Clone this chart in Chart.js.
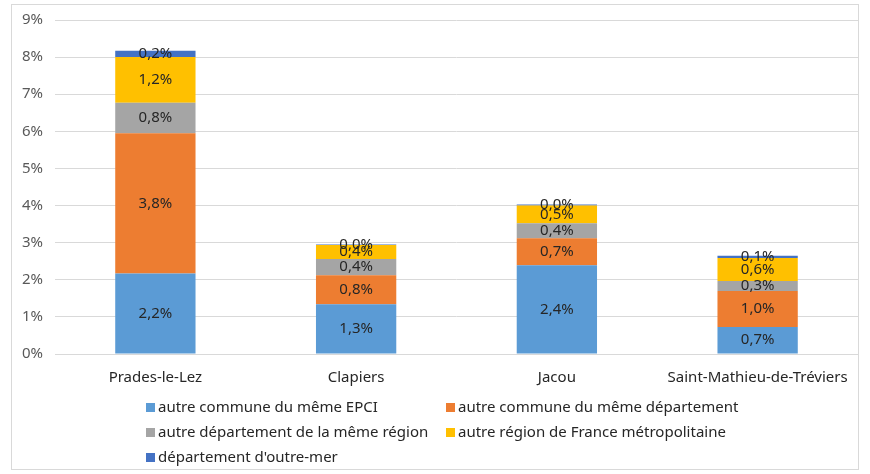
<!DOCTYPE html>
<html>
<head>
<meta charset="utf-8">
<script src="https://cdn.jsdelivr.net/npm/chart.js@4"></script>
<style>
    body { margin: 0; background: #fff; font-family: "Noto Sans", sans-serif; }
    #box {
        position: absolute; left: 11px; top: 4px;
        width: 848px; height: 466px;
        border: 1px solid #d9d9d9; box-sizing: border-box;
    }
    #wrap { position: absolute; left: 0; top: -6px; width: 846px; height: 414px; }
    #legend {
        position: absolute; left: 134px; top: 391px;
        display: grid; grid-template-columns: 300px 330px;
        row-gap: 5px; font-size: 15px; color: #262626;
    }
    #legend span.sq {
        display: inline-block; width: 9px; height: 9px; margin-right: 3px;
        vertical-align: 0px;
    }
</style>
</head>
<body>
<div id="box">
    <div id="wrap"><canvas id="chart"></canvas></div>
    <div id="legend"></div>
</div>
<script>
// categories (communes)
const communes = ['Prades-le-Lez', 'Clapiers', 'Jacou', 'Saint-Mathieu-de-Tréviers'];

// series values, in %
const memeEpci = [2.17, 1.34, 2.39, 0.73];
const memeDepartement = [3.78, 0.78, 0.73, 0.97];
const memeRegion = [0.82, 0.44, 0.40, 0.27];
const franceMetro = [1.23, 0.38, 0.48, 0.62];
const outreMer = [0.17, 0.01, 0.03, 0.06];

const seriesNames = [
    'autre commune du même EPCI',
    'autre commune du même département',
    'autre département de la même région',
    'autre région de France métropolitaine',
    "département d'outre-mer"
];
const seriesColors = ['#5b9bd5', '#ed7d31', '#a5a5a5', '#ffc000', '#4472c4'];

// y axis ticks
const yTicks = [0, 1, 2, 3, 4, 5, 6, 7, 8, 9];

const fmt = v => v.toFixed(1).replace('.', ',') + '%';

// draws the value labels in the middle of each segment
const segmentLabels = {
    id: 'segmentLabels',
    afterDatasetsDraw(chart) {
        const ctx = chart.ctx;
        ctx.save();
        ctx.font = '15px "Noto Sans"';
        ctx.fillStyle = '#262626';
        ctx.textAlign = 'center';
        ctx.textBaseline = 'middle';
        chart.data.datasets.forEach((ds, i) => {
            chart.getDatasetMeta(i).data.forEach((bar, j) => {
                const y = (bar.y + bar.base) / 2;
                ctx.fillText(fmt(ds.data[j]), bar.x, y);
            });
        });
        ctx.restore();
    }
};

const allSeries = [memeEpci, memeDepartement, memeRegion, franceMetro, outreMer];

const chart = new Chart(document.getElementById('chart'), {
    type: 'bar',
    data: {
        labels: communes,
        datasets: allSeries.map((vals, i) => ({
            label: seriesNames[i],
            data: vals,
            backgroundColor: seriesColors[i],
            barPercentage: 0.4,
            categoryPercentage: 1
        }))
    },
    options: {
        responsive: true,
        maintainAspectRatio: false,
        animation: false,
        layout: { padding: { top: 9, right: 0, bottom: 20, left: 0 } },
        plugins: {
            legend: { display: false },
            tooltip: { enabled: false }
        },
        scales: {
            x: {
                stacked: true,
                grid: { display: false },
                border: { color: '#d9d9d9' },
                ticks: {
                    padding: 6.5,
                    color: '#262626',
                    maxRotation: 0,
                    font: { family: 'Noto Sans', size: 15 }
                }
            },
            y: {
                stacked: true,
                min: 0,
                max: 9,
                afterFit(scale) { scale.width = 43; },
                afterBuildTicks(scale) {
                    scale.ticks = yTicks.map(v => ({ value: v }));
                },
                grid: { color: '#d9d9d9', drawTicks: false },
                border: { display: false },
                ticks: {
                    padding: 12,
                    color: '#595959',
                    font: { family: 'Noto Sans', size: 15 },
                    callback: v => v + '%'
                }
            }
        }
    },
    plugins: [segmentLabels]
});

// legend in two columns, like the original
const legend = document.getElementById('legend');
chart.data.datasets.forEach(ds => {
    const item = document.createElement('div');
    item.innerHTML = '<span class="sq" style="background:' + ds.backgroundColor + '"></span>' + ds.label;
    legend.appendChild(item);
});
</script>
</body>
</html>
